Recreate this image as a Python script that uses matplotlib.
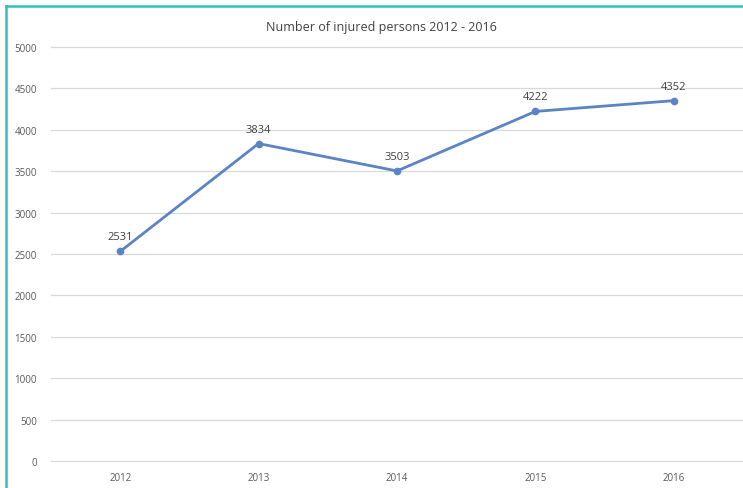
import matplotlib
matplotlib.use("Agg")
import matplotlib.pyplot as plt
from matplotlib.lines import Line2D

years = ["2012", "2013", "2014", "2015", "2016"]
injured = [2531, 3834, 3503, 4222, 4352]
y_ticks = [0, 500, 1000, 1500, 2000, 2500, 3000, 3500, 4000, 4500, 5000]
title = "Number of injured persons 2012 - 2016"

plt.rcParams["font.family"] = ["Open Sans", "DejaVu Sans"]

fig = plt.figure(figsize=(7.43, 4.89), dpi=100)
ax = fig.add_axes([51 / 743, 1 - 462 / 489, 1 - 51 / 743, (462 - 48) / 489])

x = list(range(len(years)))
ax.plot(x, injured, color="#5b84c4", linewidth=2.0, marker="o", markersize=4.5,
        solid_capstyle="round", zorder=3)
for xi, v in zip(x, injured):
    ax.annotate(str(v), (xi, v), xytext=(0, 6.5), textcoords="offset points",
                ha="center", va="bottom", fontsize=8, color="#404040")

ax.set_xlim(-0.5, len(years) - 0.5)
ax.set_ylim(0, 5000)
ax.set_yticks(y_ticks)
ax.set_yticklabels([str(t) for t in y_ticks])
ax.set_xticks(x)
ax.set_xticklabels(years)
ax.grid(axis="y", color="#d9d9d9", linewidth=0.9)
for gl in ax.get_ygridlines():
    gl.set_clip_on(False)
ax.set_axisbelow(True)
for s in ax.spines.values():
    s.set_visible(False)
ax.tick_params(axis="both", length=0, labelsize=7, colors="#595959")
ax.tick_params(axis="y", pad=10)
ax.tick_params(axis="x", pad=8)

fig.text(381 / 743, 1 - 27 / 489, title, ha="center", va="center",
         fontsize=9, color="#404040")

# Chart frame: visible left and top edges
frame = "#2fbfbf"
fig.add_artist(Line2D([5.5 / 743, 5.5 / 743], [0, 1 - 7 / 489],
                      transform=fig.transFigure, color=frame, linewidth=1.8))
fig.add_artist(Line2D([5.5 / 743, 1], [1 - 7 / 489, 1 - 7 / 489],
                      transform=fig.transFigure, color=frame, linewidth=1.8))

fig.savefig("out.png", dpi=100)
